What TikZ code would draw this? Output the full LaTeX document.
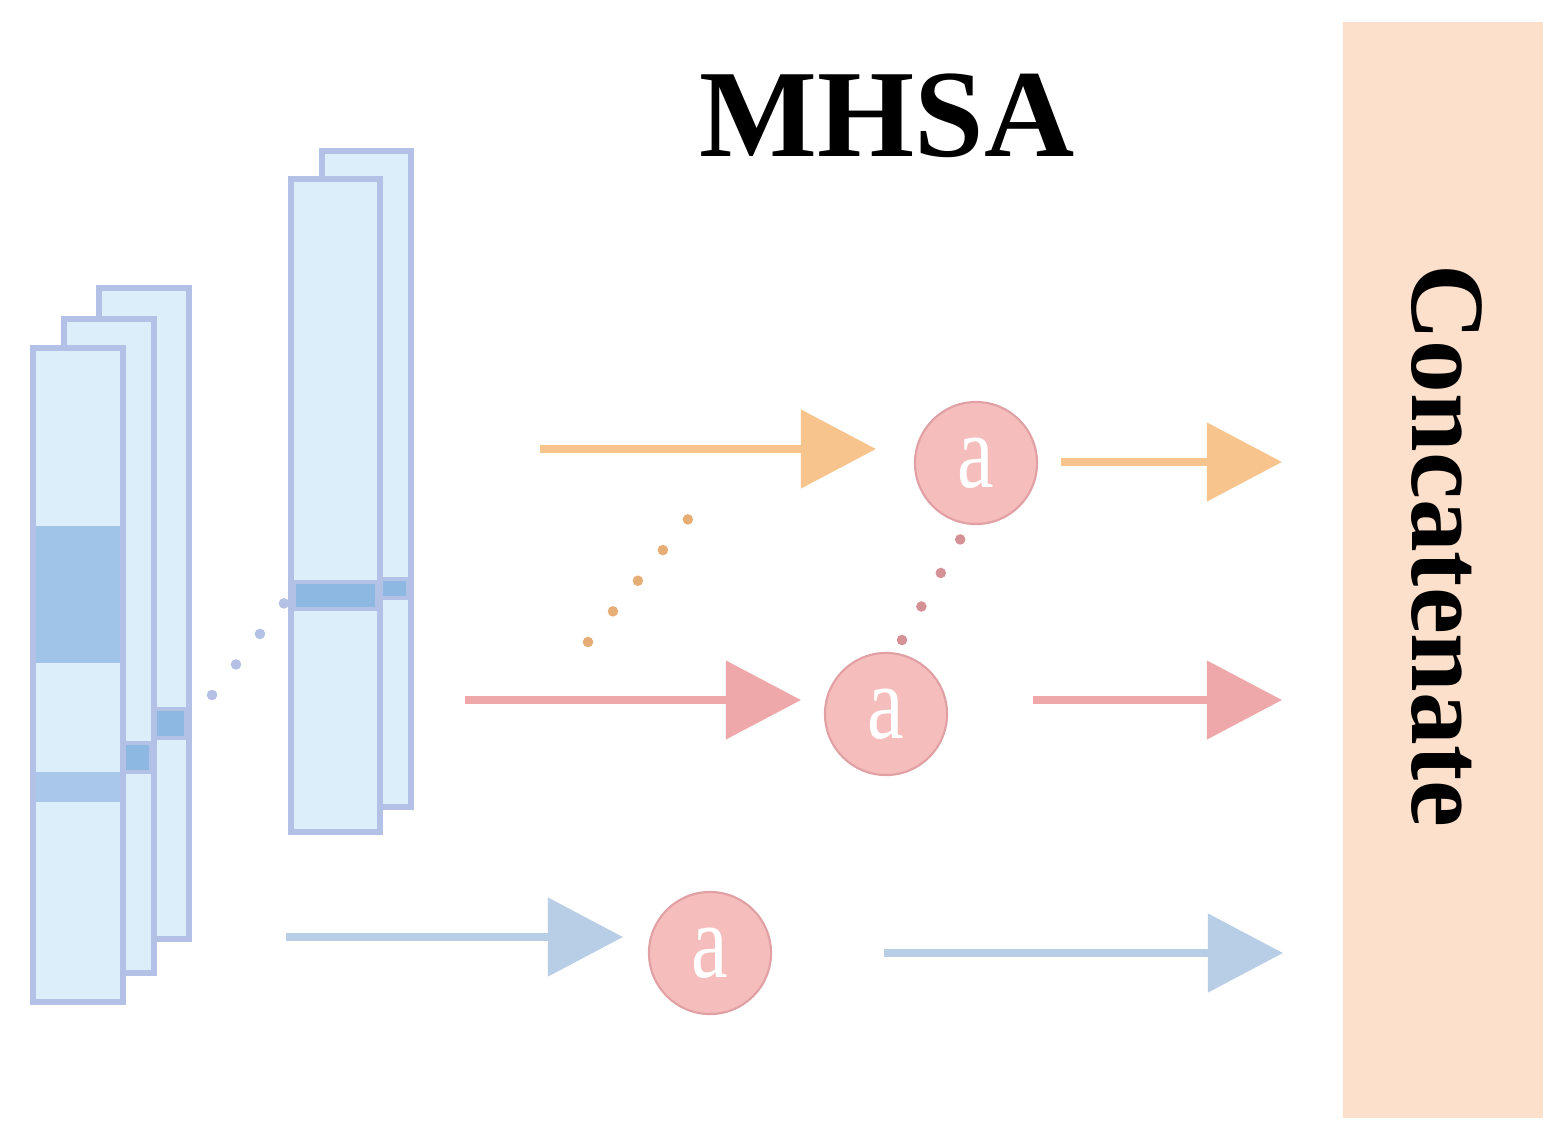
\documentclass[tikz,border=0pt]{standalone}
\usepackage{fontspec}
\setmainfont{Liberation Serif}
\usepackage{graphicx}
\usetikzlibrary{arrows.meta}
\definecolor{colfill}{HTML}{DCEEFA}
\definecolor{colborder}{HTML}{B3C1E6}
\definecolor{bigband}{HTML}{A0C4E8}
\definecolor{thinband}{HTML}{A9C7EB}
\definecolor{smallband}{HTML}{8DB8E1}
\definecolor{orangeC}{HTML}{F7C48E}
\definecolor{pinkC}{HTML}{EEA8AA}
\definecolor{blueC}{HTML}{B8CDE6}
\definecolor{circfill}{HTML}{F6BDBD}
\definecolor{circborder}{HTML}{E0A0A4}
\definecolor{orangeDot}{HTML}{E6AE75}
\definecolor{pinkDot}{HTML}{D49196}
\definecolor{blueDot}{HTML}{B4C0E4}
\definecolor{concatfill}{HTML}{FCE0CB}
\begin{document}
\begin{tikzpicture}[x=0.01cm,y=-0.01cm,
  colbox/.style={fill=colfill, draw=colborder, line width=1.7pt},
  bandbox/.style={fill=smallband, draw=colborder, line width=1.1pt},
  flow/.style={line width=2.2pt, -{Triangle[length=0.75cm,width=0.77cm]}},
  anode/.style={circle, minimum size=1.22cm, inner sep=0pt, fill=circfill,
    draw=circborder, line width=0.6pt, text=white,
    font=\fontsize{30}{30}\selectfont},
  dotline/.style={line cap=round, line width=3pt, dash pattern=on 0pt off #1}
]
\useasboundingbox (0,0) rectangle (1561,1139);
\fill[white] (0,0) rectangle (1561,1139);

% title
\node[font=\fontsize{35.5}{36}\selectfont\bfseries] (title) at (887,116) {MHSA};

% concatenate box
\node[fill=concatfill, minimum width=2cm, minimum height=10.96cm, inner sep=0pt]
  (concat) at (1443,570) {};
\node[rotate=-90, font=\fontsize{30}{30}\selectfont\bfseries] (concattext) at (1447,546) {Concatenate};

% left stack of columns
\draw[colbox] (99,288) rectangle (189,939);
\draw[bandbox] (102,709) rectangle (186,738);
\draw[colbox] (64,319) rectangle (154,973);
\draw[bandbox] (67,743) rectangle (151,772);
\draw[colbox] (33,348) rectangle (123,1002);
\fill[bigband] (36,526) rectangle (120,663);
\fill[thinband] (36,772) rectangle (120,802);

% right pair of columns
\draw[colbox] (322,151) rectangle (411,807);
\draw[bandbox] (325,579) rectangle (408,598);
\draw[colbox] (291,179) rectangle (380,832);
\draw[bandbox] (294,582) rectangle (377,609);

% attention nodes
\node[anode] (a1) at (976,463) {\scalebox{0.78}[1]{a}};
\node[anode] (a2) at (886,714) {\scalebox{0.78}[1]{a}};
\node[anode] (a3) at (710,953) {\scalebox{0.78}[1]{a}};

% arrow end points
\coordinate (o1s) at (540,449);  \coordinate (o1e) at (876,449);
\coordinate (o2s) at (1061,462); \coordinate (o2e) at (1282,462);
\coordinate (p1s) at (465,700);  \coordinate (p1e) at (801,700);
\coordinate (p2s) at (1033,700); \coordinate (p2e) at (1282,700);
\coordinate (b1s) at (286,937);  \coordinate (b1e) at (623,937);
\coordinate (b2s) at (884,953);  \coordinate (b2e) at (1283,953);

\draw[flow, orangeC] (o1s) -- (o1e);
\draw[flow, orangeC] (o2s) -- (o2e);
\draw[flow, pinkC] (p1s) -- (p1e);
\draw[flow, pinkC] (p2s) -- (p2e);
\draw[flow, blueC] (b1s) -- (b1e);
\draw[flow, blueC] (b2s) -- (b2e);

% dotted links
\coordinate (bd1) at (212,695); \coordinate (bd2) at (285,602);
\draw[dotline=0.388cm, blueDot] (bd1) -- (bd2);
\coordinate (od1) at (588,642); \coordinate (od2) at (689,518);
\draw[dotline=0.395cm, orangeDot] (od1) -- (od2);
\coordinate (pd1) at (902,640); \coordinate (pd2) at (961,538);
\draw[dotline=0.387cm, pinkDot] (pd1) -- (pd2);
\end{tikzpicture}
\end{document}
